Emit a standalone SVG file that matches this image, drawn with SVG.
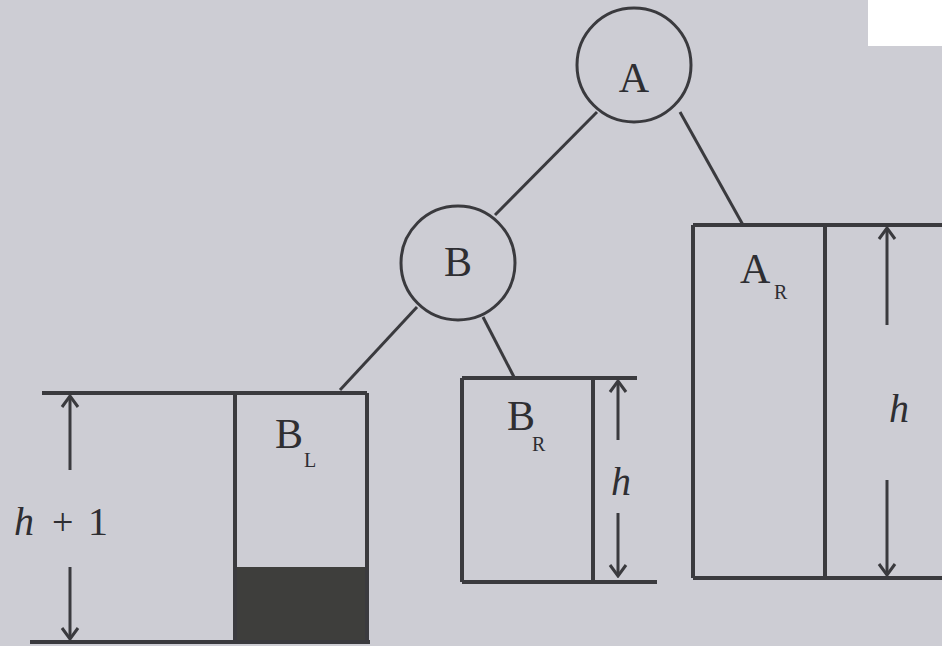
<svg xmlns="http://www.w3.org/2000/svg" width="942" height="646" viewBox="0 0 942 646">
<style>
.ln{stroke:#3a3a3e;stroke-width:4;fill:none}
.thin{stroke:#3a3a3e;stroke-width:3;fill:none}
.lbl{font-family:"Liberation Serif","DejaVu Serif",serif;fill:#2e2e32}
.big{font-size:42px}
.sub{font-size:20px}
.it{font-style:italic;font-size:40px}
</style>
<defs>
<marker id="ah" viewBox="0 0 20 20" refX="18" refY="10" markerWidth="20" markerHeight="20" markerUnits="userSpaceOnUse" orient="auto-start-reverse">
<polyline points="7,2 18,10 7,18" fill="none" stroke="#3a3a3e" stroke-width="3"/>
</marker>
</defs>
<rect x="0" y="0" width="942" height="646" fill="#cdcdd4"/>
<rect x="868" y="0" width="74" height="46" fill="#ffffff"/>
<g id="connectors">
<line class="thin" x1="597" y1="112" x2="495" y2="215"/>
<line class="thin" x1="680" y1="112" x2="743" y2="225"/>
<line class="thin" x1="417" y1="307" x2="340" y2="390"/>
<line class="thin" x1="483" y1="317" x2="514" y2="377"/>
</g>
<g id="A">
<circle class="thin" cx="634" cy="65" r="57" fill="#d2d2d8"/>
<text class="lbl big" x="634" y="92" text-anchor="middle">A</text>
</g>
<g id="B">
<circle class="thin" cx="458" cy="263" r="57" fill="#d2d2d8"/>
<text class="lbl big" x="458" y="276" text-anchor="middle">B</text>
</g>
<g id="BL">
<rect x="235" y="567" width="132" height="75" fill="#3e3e3c"/>
<line class="ln" x1="42" y1="393" x2="367" y2="393"/>
<line class="ln" x1="30" y1="642" x2="370" y2="642"/>
<line class="ln" x1="235" y1="393" x2="235" y2="642"/>
<line class="ln" x1="367" y1="393" x2="367" y2="642"/>
<text class="lbl big" x="275" y="448">B</text>
<text class="lbl sub" x="304" y="467">L</text>
<line class="thin" x1="70" y1="396" x2="70" y2="470" marker-start="url(#ah)"/>
<line class="thin" x1="70" y1="567" x2="70" y2="639" marker-end="url(#ah)"/>
<text class="lbl it" x="14" y="535">h</text>
<text class="lbl" x="52" y="535" font-size="38">+</text>
<text class="lbl" x="88" y="535" font-size="40">1</text>
</g>
<g id="BR">
<line class="ln" x1="462" y1="378" x2="637" y2="378"/>
<line class="ln" x1="462" y1="582" x2="657" y2="582"/>
<line class="ln" x1="462" y1="378" x2="462" y2="582"/>
<line class="ln" x1="593" y1="378" x2="593" y2="582"/>
<text class="lbl big" x="507" y="430">B</text>
<text class="lbl sub" x="532" y="451" font-size="17">R</text>
<line class="thin" x1="618" y1="381" x2="618" y2="440" marker-start="url(#ah)"/>
<line class="thin" x1="618" y1="513" x2="618" y2="576" marker-end="url(#ah)"/>
<text class="lbl it" x="611" y="495">h</text>
</g>
<g id="AR">
<line class="ln" x1="693" y1="225" x2="942" y2="225"/>
<line class="ln" x1="693" y1="578" x2="942" y2="578"/>
<line class="ln" x1="693" y1="225" x2="693" y2="578"/>
<line class="ln" x1="825" y1="225" x2="825" y2="578"/>
<text class="lbl big" x="740" y="283">A</text>
<text class="lbl sub" x="774" y="299" font-size="17">R</text>
<line class="thin" x1="887" y1="228" x2="887" y2="325" marker-start="url(#ah)"/>
<line class="thin" x1="887" y1="480" x2="887" y2="575" marker-end="url(#ah)"/>
<text class="lbl it" x="889" y="422">h</text>
</g>
</svg>
